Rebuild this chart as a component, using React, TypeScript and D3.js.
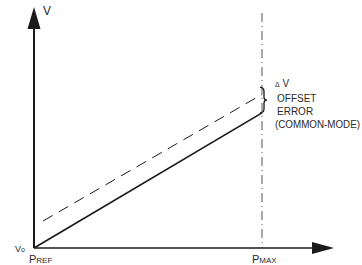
import React from "react";
import * as d3 from "d3";

// Normalised power (PREF = 0, PMAX = 1) vs output voltage
const powerDomain = [0, 1];
const voltageDomain = [0, 1];
const idealLine = [
  { p: 0, v: 0 },
  { p: 1, v: 0.585 },
];
const offsetLine = [
  { p: 0.04, v: 0.117 },
  { p: 1, v: 0.665 },
];
const pmaxValue = 1;

export default function App() {
  const W = 362;
  const H = 265;
  const x = d3.scaleLinear().domain(powerDomain).range([34, 262]);
  const y = d3.scaleLinear().domain(voltageDomain).range([248, 17]);
  const line = d3
    .line<{ p: number; v: number }>()
    .x((d) => x(d.p))
    .y((d) => y(d.v));

  const ox = x(0);
  const oy = y(0);
  const px = x(pmaxValue);
  const font = "'Liberation Sans Narrow', 'Liberation Sans', Arial, sans-serif";
  const ink = "#1a1a1a";
  const txt = "#2a2a2a";
  const endIdeal = y(idealLine[1].v);
  const endOffset = y(offsetLine[1].v);
  const bx = px;
  const bTop = endOffset - 7;
  const bBot = endIdeal;
  const bmid = (bTop + bBot) / 2;

  return (
    <svg
      width={W}
      height={H}
      style={{ position: "absolute", left: 0, top: 0, background: "#fff" }}
      fontFamily={font}
    >
      {/* PMAX vertical dash-dot line */}
      <line
        x1={px}
        x2={px}
        y1={13}
        y2={oy}
        stroke="#555"
        strokeWidth={1}
        strokeDasharray="9,4,1,4"
      />
      {/* Y axis */}
      <line x1={ox} x2={ox} y1={oy} y2={26} stroke={ink} strokeWidth={2} />
      <path d={`M${ox},7 L${ox + 6.5},29 L${ox - 6.5},29 Z`} fill={ink} />
      {/* X axis */}
      <line x1={ox} x2={315} y1={oy} y2={oy} stroke={ink} strokeWidth={1.5} />
      <path d={`M334,${oy} L312,${oy - 6} L312,${oy + 6} Z`} fill={ink} />

      {/* Lines */}
      <path d={line(idealLine) || ""} fill="none" stroke={ink} strokeWidth={1.7} />
      <path
        d={line(offsetLine) || ""}
        fill="none"
        stroke={ink}
        strokeWidth={1}
        strokeDasharray="11,7"
      />

      {/* Brace */}
      <path
        d={`M${bx - 2},${bTop} Q${bx + 2},${bTop} ${bx + 2},${bTop + 4}
           L${bx + 2},${bmid - 3} Q${bx + 2},${bmid} ${bx + 5},${bmid}
           Q${bx + 2},${bmid} ${bx + 2},${bmid + 3}
           L${bx + 2},${bBot - 4} Q${bx + 2},${bBot} ${bx - 2},${bBot}`}
        fill="none"
        stroke={ink}
        strokeWidth={1.3}
      />

      {/* Labels */}
      <text x={43} y={15} fontSize={12} fill={txt}>V</text>
      <text x={15} y={252} fontSize={9} fill={txt}>
        V<tspan fontSize={7}>o</tspan>
      </text>
      <text x={29} y={263} fontSize={11} fill={txt}>
        P<tspan fontSize={8}>REF</tspan>
      </text>
      <text x={252} y={263} fontSize={11} fill={txt}>
        P<tspan fontSize={8}>MAX</tspan>
      </text>
      <g fontSize={10} fill={txt}>
        <text x={275} y={87}>
          <tspan fontSize={7}>Δ</tspan> V
        </text>
        <text x={277} y={102}>OFFSET</text>
        <text x={277} y={115}>ERROR</text>
        <text x={275} y={128} textLength={85} lengthAdjust="spacingAndGlyphs">(COMMON-MODE)</text>
      </g>
    </svg>
  );
}
